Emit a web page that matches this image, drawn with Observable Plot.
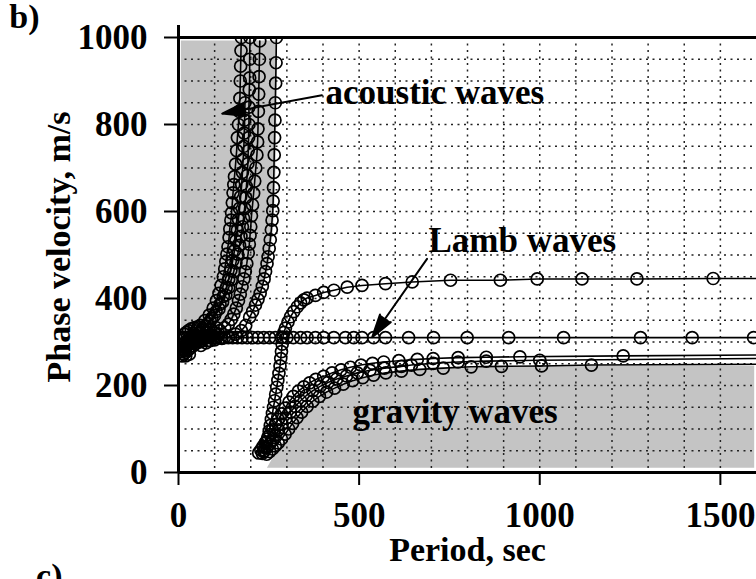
<!DOCTYPE html>
<html><head><meta charset="utf-8">
<script src="https://cdn.jsdelivr.net/npm/d3@7"></script>
<script src="https://cdn.jsdelivr.net/npm/@observablehq/plot@0.6"></script>
<style>body{margin:0;background:#fff} svg{display:block}</style>
</head><body><div id="chart"></div>
<script>
// ---- axes / ticks ----
const xTicks = [0, 500, 1000, 1500];
const yTicks = [0, 200, 400, 600, 800, 1000];
const gridPeriods = [100,200,300,400,500,600,700,800,900,1000,1100,1200,1300,1400,1500];
const gridVelocities = [50,100,150,200,250,300,350,400,450,500,550,600,650,700,750,800,850,900,950];

// ---- shaded regions ----
const acousticLeft = 8;
const acousticRegion = [[315,8],[325,40],[332,80],[340,120],[352,150],[368,180],[388,205],[412,225],[440,240],[470,250],[510,257],[560,263],[620,267],[700,270],[800,272],[900,273],[992,273]];
const gravityBottom = 10;
const gravityRegion = [[246,10],[256,24],[266,38],[278,54],[292,72],[306,92],[322,112],[340,132],[360,150],[382,166],[406,180],[432,192],[460,202],[492,211],[528,219],[570,226],[620,231],[680,235],[760,239],[860,242],[1000,244],[1200,245],[1595,245]];

// ---- acoustic wave curves [period, velocity] ----
const acousticA = [[10,268],[12,273],[15,280],[18,287],[22,294],[26,300],[30,305],[36,312],[42,320],[50,328],[60,338],[73,349],[85,362],[96,378],[105,395],[112,412],[118,430],[124,450],[128,468],[131,485],[134,502],[137,519],[140,540],[142,560],[145,580],[147,597],[149,620],[151,643],[153,662],[155,680],[158,709],[161,740],[163,770],[166,800],[168,830],[170,860],[171,900],[172,934],[173,970],[174,1000]];
const acousticE = [[10,278],[14,282],[18,286],[23,291],[28,296],[34,301],[41,307],[49,314],[58,322],[68,331],[80,342],[92,355],[104,370],[115,387],[124,405],[132,424],[139,444],[145,465],[150,487],[155,510],[159,533],[163,557],[166,582],[169,607],[172,634],[175,662],[177,690],[179,720],[181,750],[182,780],[183,810],[184,850]];
const acousticB = [[12,285],[18,290],[24,296],[30,301],[38,307],[46,313],[55,320],[65,328],[76,337],[88,348],[100,361],[112,376],[122,392],[131,408],[139,425],[146,443],[153,462],[159,482],[164,502],[169,522],[173,543],[177,565],[180,585],[183,607],[186,632],[188,657],[190,683],[192,710],[193,740],[194,770],[195,800],[195,840],[196,880],[197,907],[197,950],[198,1000]];
const acousticC = [[14,290],[22,293],[32,297],[44,301],[56,305],[70,310],[85,315],[100,320],[115,326],[128,333],[138,341],[146,352],[153,364],[160,378],[166,395],[171,410],[176,427],[181,445],[185,462],[189,480],[193,505],[196,525],[198,545],[200,565],[202,590],[205,615],[208,642],[211,670],[214,700],[217,730],[219,760],[220,790],[221,830],[222,870],[223,910],[224,950],[225,992]];
const acousticD = [[16,295],[30,297],[45,299],[62,301],[80,303],[100,305],[120,308],[140,312],[158,318],[174,326],[186,338],[197,357],[205,370],[213,385],[220,398],[226,412],[232,428],[237,445],[241,462],[245,480],[248,496],[251,515],[254,535],[257,558],[259,580],[261,602],[262,624],[263,655],[264,690],[265,730],[266,770],[267,810],[268,850],[269,895],[270,942],[271,1000]];
const blobPoints = [[14,272],[20,276],[26,281],[33,286],[40,291],[48,296],[56,300],[64,304],[72,308],[82,312],[92,316],[102,321],[16,318],[22,322],[28,326],[35,330],[44,333],[54,335],[66,326],[78,322],[90,328],[104,333],[112,318],[62,292],[76,298],[88,303],[100,309],[20,268],[30,272]];

// ---- Lamb wave curves ----
const lambFlatVelocity = 310;
const lambFlatPeriods = [12,18,24,30,37,44,52,60,68,77,86,96,106,116,127,138,150,163,176,190,205,220,236,252,268,285,300,318,338,356,379,402,430,462,485,508,540,573,637,706,799,914,1066,1279,1422,1592];
const lambUpper = [[236,48],[240,58],[244,70],[248,82],[251,95],[254,108],[257,122],[260,136],[263,150],[266,165],[269,180],[272,196],[275,212],[278,228],[281,245],[283,262],[285,278],[287,295],[289,311],[292,322],[296,332],[303,346],[310,358],[319,370],[329,381],[338,390],[347,397],[356,401],[379,407],[402,414],[430,419],[467,426],[508,430],[573,434],[647,438],[753,442],[891,442],[993,445],[1117,445],[1269,445],[1480,446]];

// ---- gravity wave curves ----
const gravity1 = [[222,45],[228,52],[234,60],[240,68],[246,77],[253,87],[260,98],[268,110],[276,122],[285,135],[295,148],[306,162],[318,175],[332,187],[347,197],[363,206],[380,214],[402,221],[425,229],[450,236],[476,242],[505,247],[537,251],[568,254],[610,257],[661,260],[705,262],[774,264],[852,265],[945,266],[1231,268]];
const gravity2 = [[232,44],[238,50],[245,57],[252,65],[260,75],[268,86],[277,98],[287,111],[298,125],[310,139],[323,152],[338,165],[354,177],[372,188],[392,198],[414,207],[438,215],[465,222],[495,229],[530,235],[570,240],[617,244],[645,247],[705,251],[774,254],[852,256],[1000,258]];
const gravity3 = [[244,42],[252,48],[260,54],[268,61],[276,68],[285,77],[295,88],[305,100],[316,113],[328,126],[341,139],[356,152],[372,164],[390,175],[410,185],[432,194],[456,203],[482,211],[510,218],[540,224],[574,229],[617,233],[668,237],[733,240],[810,243],[894,244],[1005,245],[1143,247]];
const lineEndPeriod = 1600;
const lineEndVelocity = {lambUpper: 446, gravity1: 270, gravity2: 262, gravity3: 249};

// ---- annotations ----
const labels = [
  {text: "acoustic waves", period: 407, velocity: 848},
  {text: "Lamb waves", period: 692, velocity: 506},
  {text: "gravity waves", period: 482, velocity: 113}
];
const arrows = [
  {p1: 397, v1: 867, p2: 121, v2: 825},
  {p1: 688, v1: 491, p2: 536, v2: 311}
];

// ---- build tables ----
const rows = (id, pts) => pts.map(([period, velocity]) => ({id, period, velocity}));
const lambFlat = lambFlatPeriods.map(p => [p, lambFlatVelocity]);
const circles = [
  ...rows("A", acousticA), ...rows("E", acousticE), ...rows("B", acousticB), ...rows("C", acousticC), ...rows("D", acousticD),
  ...rows("blob", blobPoints),
  ...rows("L0", lambFlat),
  ...rows("L1", lambUpper),
  ...rows("G1", gravity1), ...rows("G2", gravity2), ...rows("G3", gravity3)
];
const lines = [
  ...rows("A", acousticA), ...rows("E", acousticE), ...rows("B", acousticB), ...rows("C", acousticC), ...rows("D", acousticD),
  ...rows("L0", [...lambFlat, [lineEndPeriod, lambFlatVelocity]]),
  ...rows("L1", [...lambUpper, [lineEndPeriod, lineEndVelocity.lambUpper]]),
  ...rows("G1", [...gravity1, [lineEndPeriod, lineEndVelocity.gravity1]]),
  ...rows("G2", [...gravity2, [lineEndPeriod, lineEndVelocity.gravity2]]),
  ...rows("G3", [...gravity3, [lineEndPeriod, lineEndVelocity.gravity3]])
];
const acousticArea = acousticRegion.map(([velocity, period]) => ({velocity, period, left: acousticLeft}));
const gravityArea = gravityRegion.map(([period, velocity]) => ({period, velocity, bottom: gravityBottom}));

const FONT = "'Liberation Serif', 'Times New Roman', Times, serif";
const GRAY = "#c4c4c4";
const fmt = d => String(d);

const chart = Plot.plot({
  width: 756, height: 579,
  marginLeft: 178, marginRight: 0, marginTop: 37, marginBottom: 107,
  style: {fontFamily: FONT, fontWeight: "bold", background: "white", color: "black"},
  x: {domain: [0, 1600]},
  y: {domain: [0, 1000]},
  marks: [
    Plot.areaX(acousticArea, {y: "velocity", x1: "left", x2: "period", fill: GRAY}),
    Plot.areaY(gravityArea, {x: "period", y1: "bottom", y2: "velocity", fill: GRAY}),
    Plot.gridX(gridPeriods, {stroke: "#222", strokeOpacity: 1, strokeWidth: 1.5, strokeDasharray: "2,4.5"}),
    Plot.gridY(gridVelocities, {stroke: "#222", strokeOpacity: 1, strokeWidth: 1.5, strokeDasharray: "2,4.5"}),
    Plot.line(lines, {x: "period", y: "velocity", z: "id", stroke: "black", strokeWidth: 1.6, clip: true}),
    Plot.dot(circles, {x: "period", y: "velocity", r: 6, stroke: "black", strokeWidth: 1.7, fill: "none", clip: true}),
    Plot.arrow(arrows, {x1: "p1", y1: "v1", x2: "p2", y2: "v2", stroke: "black", fill: "black", strokeWidth: 2, headLength: 18, headAngle: 32}),
    Plot.text(labels, {x: "period", y: "velocity", text: "text", textAnchor: "start", lineAnchor: "bottom", fontSize: 35, fontWeight: "bold", fontFamily: FONT, fill: "black"}),
    Plot.ruleY([1000], {stroke: "black", strokeWidth: 3}),
    Plot.ruleY([0], {stroke: "black", strokeWidth: 3}),
    Plot.ruleX([0], {stroke: "black", strokeWidth: 3, insetTop: -12}),
    Plot.axisX({ticks: xTicks, tickFormat: fmt, tickSize: 13, tickPadding: 17, strokeWidth: 2, fontSize: 35, fontWeight: "bold", fontFamily: FONT, label: null}),
    Plot.axisY({ticks: yTicks, tickFormat: fmt, tickSize: 14, tickPadding: 17, strokeWidth: 2, fontSize: 35, fontWeight: "bold", fontFamily: FONT, label: null}),
    Plot.text(["Period, sec"], {frameAnchor: "bottom", dy: 88, textAnchor: "middle", lineAnchor: "bottom", fontSize: 34, fontWeight: "bold", fontFamily: FONT, fill: "black"}),
    Plot.text(["Phase velocity, m/s"], {frameAnchor: "left", dx: -109, dy: -8, rotate: -90, textAnchor: "middle", lineAnchor: "bottom", fontSize: 34, fontWeight: "bold", fontFamily: FONT, fill: "black"}),
    Plot.text(["b)"], {frameAnchor: "top-left", dx: -139, dy: -10, textAnchor: "end", lineAnchor: "bottom", fontSize: 34, fontWeight: "bold", fontFamily: FONT, fill: "black"}),
    Plot.text(["c)"], {frameAnchor: "bottom-left", dx: -116, dy: 114, textAnchor: "end", lineAnchor: "bottom", fontSize: 34, fontWeight: "bold", fontFamily: FONT, fill: "black"})
  ]
});
document.getElementById("chart").append(chart);
</script>
</body></html>
